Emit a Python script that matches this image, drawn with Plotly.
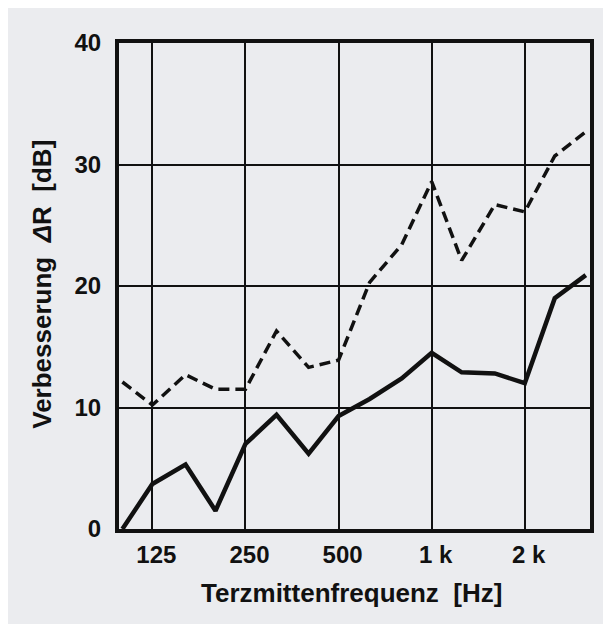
import math
import plotly.graph_objects as go

freqs = [100, 125, 160, 200, 250, 315, 400, 500, 630, 800, 1000, 1250, 1600, 2000, 2500, 3150]
solid_vals = [0.0, 3.7, 5.3, 1.5, 7.0, 9.4, 6.2, 9.3, 10.7, 12.4, 14.5, 12.9, 12.8, 12.0, 19.0, 20.9]
dashed_vals = [12.1, 10.2, 12.7, 11.5, 11.5, 16.3, 13.3, 13.9, 20.3, 23.4, 28.6, 22.1, 26.7, 26.1, 30.7, 32.7]
x_tickvals = [125, 250, 500, 1000, 2000]
x_ticktext = ["125", "250", "500", "1 k", "2 k"]
y_tickvals = [0, 10, 20, 30, 40]
x_title = "Terzmittenfrequenz  [Hz]"
y_title = "Verbesserung  <i>Δ</i>R  [dB]"

ink = "#111111"
bg = "#ebecef"
font = "Liberation Sans, Arial, sans-serif"

# page offset of the figure inside the browser (body margin)
OFF = 8
W, H = 611, 624
# target plot box in screen pixels
left_px, right_px, top_px, bottom_px = 119, 590.5, 43.3, 529.3
L = left_px - OFF
T = top_px - OFF
R = W - (right_px - OFF)
B = H - (bottom_px - OFF)
pw, ph = W - L - R, H - T - B

def px_to_paper_x(x):
    return (x - OFF - L) / pw

def px_to_paper_y(y):
    return (T + ph - (y - OFF)) / ph

fig = go.Figure()
fig.add_trace(go.Scatter(x=freqs, y=dashed_vals, mode="lines",
                         line=dict(color=ink, width=3.5, dash="11px,6px"),
                         showlegend=False, cliponaxis=False))
fig.add_trace(go.Scatter(x=freqs, y=solid_vals, mode="lines",
                         line=dict(color=ink, width=4.5),
                         showlegend=False, cliponaxis=False))

tick_font = dict(family=font, size=24, color=ink, weight="bold")
title_font = dict(family=font, size=26, color=ink, weight="bold")

fig.update_layout(
    width=W, height=H,
    margin=dict(l=L, r=R, t=T, b=B, autoexpand=False),
    paper_bgcolor=bg, plot_bgcolor=bg,
    font=dict(family=font, color=ink, size=22),
    xaxis=dict(type="log", range=[math.log10(97.5), math.log10(3250)],
               tickvals=x_tickvals, ticktext=x_ticktext,
               showgrid=True, gridcolor=ink, gridwidth=2,
               showline=True, linecolor=ink, linewidth=4, mirror=True,
               ticks="", ticklabelstandoff=1, ticklabelshift=4,
               zeroline=False, automargin=False,
               tickfont=tick_font),
    yaxis=dict(range=[0, 40], tickvals=y_tickvals,
               showgrid=True, gridcolor=ink, gridwidth=2,
               showline=True, linecolor=ink, linewidth=4, mirror=True,
               ticks="", ticklabelstandoff=9, zeroline=False, automargin=False,
               tickfont=tick_font),
    annotations=[
        dict(text=x_title, xref="paper", yref="paper",
             x=px_to_paper_x(352), y=px_to_paper_y(593),
             xanchor="center", yanchor="middle", showarrow=False, font=title_font),
        dict(text=y_title, xref="paper", yref="paper", textangle=-90,
             x=px_to_paper_x(42), y=px_to_paper_y(285),
             xanchor="center", yanchor="middle", showarrow=False, font=title_font),
    ],
)

fig.write_html("out.html")
